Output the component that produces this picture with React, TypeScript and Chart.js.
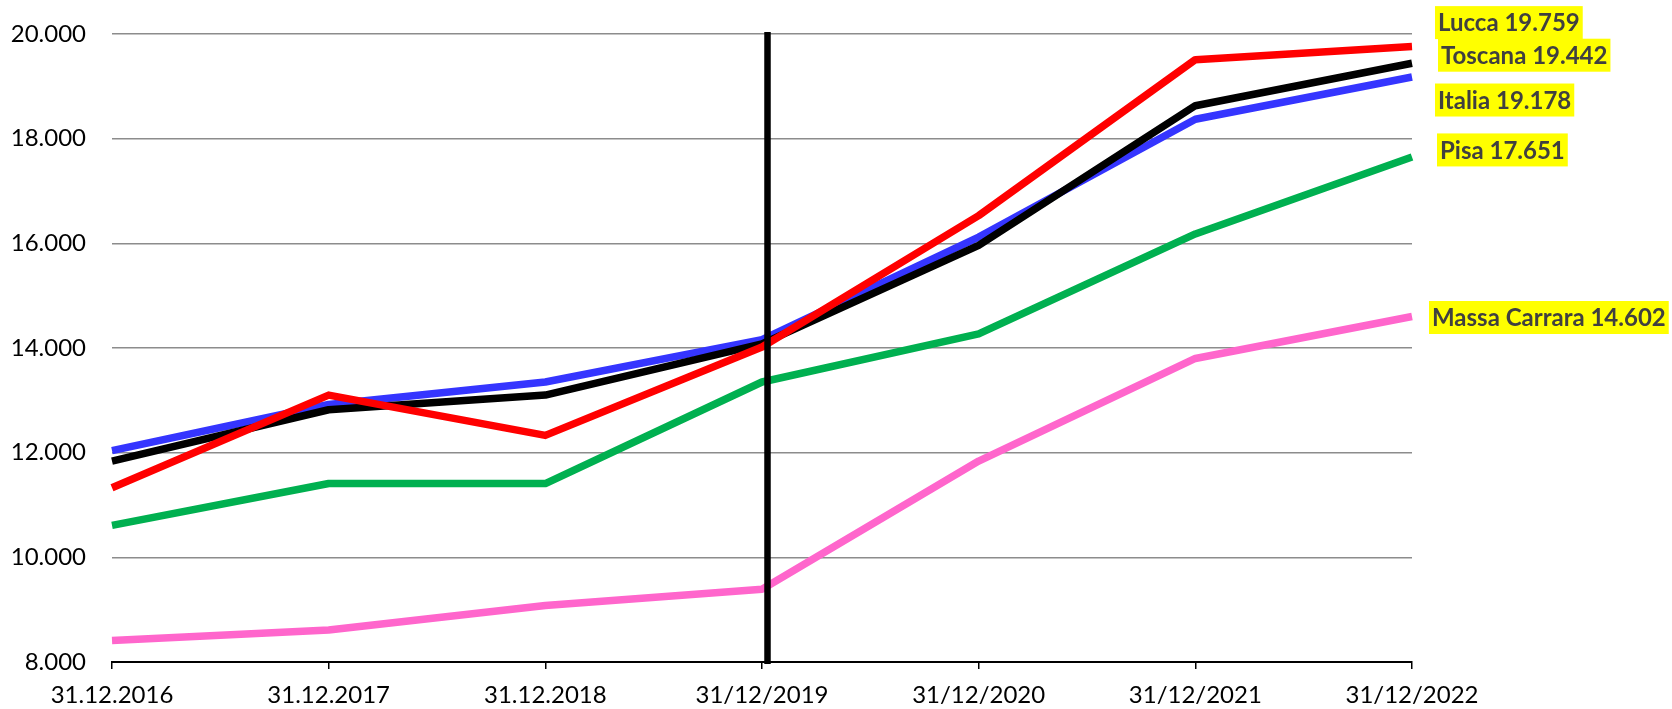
import React, { useEffect, useRef } from "react";
import { Chart, registerables } from "chart.js";
Chart.register(...registerables);

const categories = ["31.12.2016", "31.12.2017", "31.12.2018", "31/12/2019", "31/12/2020", "31/12/2021", "31/12/2022"];
const seriesNames = ["Lucca", "Toscana", "Italia", "Pisa", "Massa Carrara"];
const lucca = [11330, 13100, 12330, 14020, 16530, 19510, 19759];
const toscana = [11840, 12820, 13100, 14080, 15960, 18630, 19442];
const italia = [12040, 12920, 13350, 14160, 16120, 18370, 19178];
const pisa = [10610, 11410, 11410, 13350, 14270, 16180, 17651];
const massa = [8410, 8610, 9080, 9390, 11840, 13800, 14602];
const yMin = 8000;
const yMax = 20000;
const yStep = 2000;
const markerCategory = "31/12/2019";

const colors = ["#FF0000", "#000000", "#3535FF", "#00B050", "#FF66CC"];
// label box offsets relative to last point (styling only)
const labelOffsets = [
  { dx: 23, dy: -24 },
  { dx: 26, dy: -8 },
  { dx: 23, dy: 23 },
  { dx: 25, dy: -7 },
  { dx: 17, dy: 1 },
];

const fmt = (v: number) => {
  const s = Math.round(v).toString();
  return s.replace(/\B(?=(\d{3})+(?!\d))/g, ".");
};

const FONT = "Lato, 'Open Sans', sans-serif";

const markerPlugin = {
  id: "markerLine",
  afterDatasetsDraw(chart: any) {
    const { ctx, scales, chartArea } = chart;
    const x = scales.x.getPixelForValue(categories.indexOf(markerCategory)) + 5.5;
    ctx.save();
    ctx.strokeStyle = "#000";
    ctx.lineWidth = 6.5;
    ctx.beginPath();
    ctx.moveTo(x, chartArea.top - 2);
    ctx.lineTo(x, chartArea.bottom + 2);
    ctx.stroke();
    ctx.restore();
  },
};

const labelPlugin = {
  id: "endLabels",
  afterDatasetsDraw(chart: any) {
    const { ctx } = chart;
    ctx.save();
    ctx.font = `bold 24px ${FONT}`;
    ctx.textBaseline = "middle";
    ctx.textAlign = "left";
    chart.data.datasets.forEach((ds: any, i: number) => {
      const meta = chart.getDatasetMeta(i);
      const pt = meta.data[meta.data.length - 1];
      const last = ds.data[ds.data.length - 1];
      const text = `${ds.label} ${fmt(last)}`;
      const off = labelOffsets[i];
      const w = ctx.measureText(text).width + 6;
      const h = 33;
      const bx = pt.x + off.dx;
      const cy = pt.y + off.dy;
      ctx.fillStyle = "#FFFF00";
      ctx.fillRect(bx, cy - h / 2, w, h);
      ctx.fillStyle = "#404040";
      ctx.fillText(text, bx + 3, cy + 1);
    });
    ctx.restore();
  },
};

export default function App() {
  const ref = useRef<HTMLCanvasElement | null>(null);
  useEffect(() => {
    document.body.style.margin = "0";
    if (!ref.current) return;
    const all = [lucca, toscana, italia, pisa, massa];
    const chart = new Chart(ref.current, {
      type: "line",
      data: {
        labels: categories,
        datasets: all.map((d, i) => ({
          label: seriesNames[i],
          data: d,
          borderColor: colors[i],
          backgroundColor: colors[i],
          borderWidth: 7.5,
          pointRadius: 0,
          tension: 0,
          fill: false,
          order: i,
          borderJoinStyle: "round" as const,
          borderCapStyle: "butt" as const,
        })),
      },
      options: {
        animation: false,
        responsive: true,
        maintainAspectRatio: false,
        layout: { padding: { left: 0, right: 260, top: 34, bottom: 0 } },
        plugins: {
          legend: { display: false },
          tooltip: { enabled: false },
        },
        scales: {
          x: {
            offset: false,
            grid: {
              offset: false,
              drawOnChartArea: false,
              drawTicks: true,
              tickLength: 7,
              color: "#000",
              lineWidth: 1.5,
            },
            border: { display: true, color: "#000", width: 2 },
            ticks: {
              color: "#000",
              font: { family: FONT, size: 24 },
              padding: 12,
              maxRotation: 0,
              autoSkip: false,
            },
            afterFit(scale: any) {
              scale.height = 47;
            },
          },
          y: {
            min: yMin,
            max: yMax,
            grid: { drawTicks: false, color: "#8c8c8c", lineWidth: 1.5 },
            border: { display: false },
            ticks: {
              stepSize: yStep,
              color: "#000",
              font: { family: FONT, size: 24 },
              padding: 26,
              callback: (v: any) => fmt(Number(v)),
            },
            afterFit(scale: any) {
              scale.width = 112;
              scale.paddingTop = 10;
              scale.paddingBottom = 10;
            },
          },
        },
      },
      plugins: [markerPlugin, labelPlugin],
    });
    return () => chart.destroy();
  }, []);
  return (
    <div style={{ width: 1672, height: 709, position: "relative" }}>
      <canvas ref={ref} />
    </div>
  );
}
